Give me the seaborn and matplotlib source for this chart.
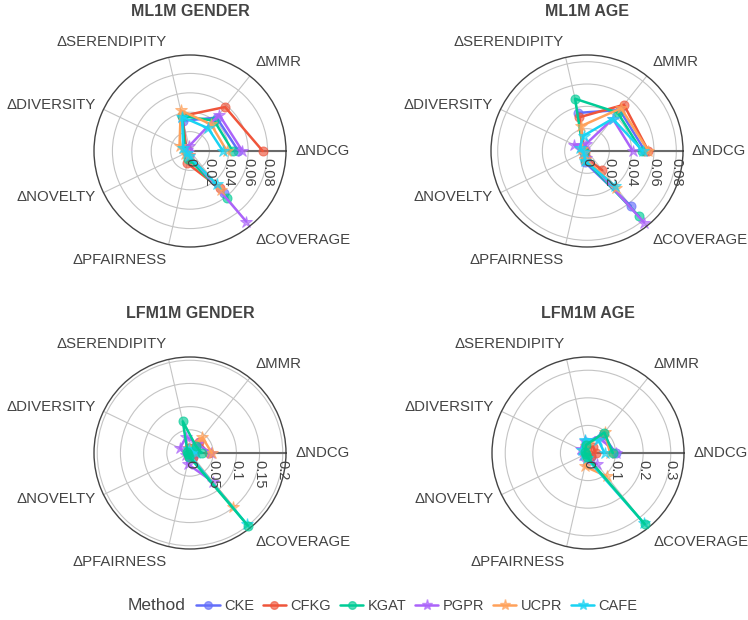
import numpy as np
import pandas as pd
import matplotlib
matplotlib.use("Agg")
import matplotlib.pyplot as plt
import matplotlib.transforms as mtrans
from matplotlib.colors import to_rgba
from matplotlib.lines import Line2D
import seaborn as sns

# ejes del radar y metodos
metrics = ["ΔNDCG", "ΔMMR", "ΔSERENDIPITY", "ΔDIVERSITY", "ΔNOVELTY", "ΔPFAIRNESS", "ΔCOVERAGE"]
methods = ["CKE", "CFKG", "KGAT", "PGPR", "UCPR", "CAFE"]
colors = ["#636EFA", "#EF553B", "#00CC96", "#AB63FA", "#FFA15A", "#19D3F3"]
symbols = ["o", "o", "o", "*", "*", "*"]

# valores por panel (filas = metodos, columnas = metricas)
ml1m_gender = [
    [0.050, 0.044, 0.032, 0.005, 0.003, 0.006, 0.056],
    [0.075, 0.058, 0.037, 0.004, 0.003, 0.013, 0.049],
    [0.044, 0.040, 0.037, 0.006, 0.004, 0.008, 0.062],
    [0.054, 0.048, 0.005, 0.003, 0.002, 0.004, 0.093],
    [0.038, 0.035, 0.043, 0.012, 0.006, 0.004, 0.052],
    [0.034, 0.030, 0.036, 0.008, 0.004, 0.005, 0.044],
]
ml1m_age = [
    [0.052, 0.047, 0.035, 0.004, 0.003, 0.010, 0.063],
    [0.055, 0.053, 0.031, 0.003, 0.002, 0.006, 0.022],
    [0.049, 0.044, 0.048, 0.004, 0.003, 0.008, 0.075],
    [0.041, 0.037, 0.006, 0.013, 0.004, 0.006, 0.082],
    [0.055, 0.049, 0.023, 0.005, 0.004, 0.007, 0.042],
    [0.050, 0.037, 0.014, 0.007, 0.003, 0.009, 0.040],
]
lfm1m_gender = [
    [0.010, 0.008, 0.010, 0.004, 0.003, 0.005, 0.012],
    [0.040, 0.030, 0.012, 0.004, 0.003, 0.006, 0.010],
    [0.025, 0.020, 0.070, 0.006, 0.004, 0.008, 0.200],
    [0.045, 0.025, 0.036, 0.024, 0.010, 0.024, 0.080],
    [0.047, 0.043, 0.010, 0.005, 0.004, 0.005, 0.150],
    [0.012, 0.010, 0.008, 0.004, 0.003, 0.005, 0.197],
]
lfm1m_age = [
    [0.100, 0.085, 0.040, 0.015, 0.010, 0.012, 0.020],
    [0.028, 0.030, 0.020, 0.010, 0.008, 0.010, 0.015],
    [0.090, 0.095, 0.030, 0.012, 0.010, 0.015, 0.330],
    [0.100, 0.070, 0.045, 0.030, 0.020, 0.030, 0.050],
    [0.080, 0.097, 0.025, 0.015, 0.012, 0.050, 0.108],
    [0.060, 0.060, 0.050, 0.025, 0.015, 0.020, 0.326],
]

titles = ["ML1M GENDER", "ML1M AGE", "LFM1M GENDER", "LFM1M AGE"]
panels = [ml1m_gender, ml1m_age, lfm1m_gender, lfm1m_age]
r_max = [0.099, 0.086, 0.207, 0.348]
r_ticks = [[0, 0.02, 0.04, 0.06, 0.08], [0, 0.02, 0.04, 0.06, 0.08],
           [0, 0.05, 0.1, 0.15, 0.2], [0, 0.1, 0.2, 0.3]]

W, H = 748, 620
centers = [(190, 151), (587, 151), (190, 453), (588, 453)]
title_y = [12, 12, 313, 313]
R = 96
TXT = "#444444"

sns.set_theme(style="white")
plt.rcParams["font.family"] = ["Liberation Sans", "DejaVu Sans"]

fig = plt.figure(figsize=(W / 100, H / 100), dpi=100)
angles = np.arange(len(metrics)) * 2 * np.pi / len(metrics)

for k in range(4):
    cx, cy = centers[k]
    ax = fig.add_axes([(cx - R) / W, (H - cy - R) / H, 2 * R / W, 2 * R / H], projection="polar")

    df = pd.DataFrame([
        {"Method": m, "theta": angles[j], "value": panels[k][i][j]}
        for i, m in enumerate(methods) for j in range(len(metrics))
    ])
    sns.lineplot(data=df, x="theta", y="value", hue="Method", style="Method",
                 hue_order=methods, style_order=methods,
                 palette=dict(zip(methods, colors)), markers=dict(zip(methods, symbols)),
                 dashes=False, sort=False, estimator=None, legend=False,
                 linewidth=1.8, ax=ax)
    for i, ln in enumerate(ax.lines):
        c = ln.get_color()
        ln.set_markerfacecolor(to_rgba(c, 0.65))
        ln.set_markeredgecolor(to_rgba(c, 0.65))
        ln.set_markersize(9 if ln.get_marker() == "*" else 6.5)
        ln.set_clip_on(False)
        # en LFM1M la linea de KGAT queda por encima de CAFE
        if k >= 2 and i == 2:
            ln.set_zorder(3)

    ax.set_ylim(0, r_max[k])
    ax.set_xticks(angles)
    ax.set_xticklabels([])
    ax.set_yticks(r_ticks[k][1:])
    ax.set_yticklabels([])
    ax.set_xlabel("")
    ax.set_ylabel("")
    ax.grid(True, color="#c4c4c4", linewidth=0.8)
    ax.tick_params(axis="x", direction="out", length=5, width=1, colors=TXT, pad=0)
    ax.spines["polar"].set_color(TXT)
    ax.spines["polar"].set_linewidth(1.0)
    ax.plot([0, 0], [0, r_max[k]], color="#6a6a6a", linewidth=1.5, zorder=1.5)

    # etiquetas del eje angular
    for a, lab in zip(angles, metrics):
        ca, sa = np.cos(a), np.sin(a)
        ha = "left" if ca > 0.1 else ("right" if ca < -0.1 else "center")
        va = "bottom" if sa > 0.5 else ("top" if sa < -0.5 else "center")
        tr = mtrans.offset_copy(ax.transData, fig=fig, x=9 * ca, y=9 * sa, units="dots")
        ax.text(a, r_max[k], lab, transform=tr, ha=ha, va=va, fontsize=10.8, color=TXT, clip_on=False)

    # etiquetas del eje radial (rotadas)
    tr = mtrans.offset_copy(ax.transData, fig=fig, x=0, y=-7, units="dots")
    for t in r_ticks[k]:
        ax.text(0, t, f"{t:g}", transform=tr, rotation=-90, ha="center", va="top",
                fontsize=10.5, color=TXT, clip_on=False)

    fig.text(cx / W, 1 - title_y[k] / H, titles[k], ha="center", va="center",
             fontsize=11.5, fontweight="bold", color=TXT)

# leyenda inferior
handles = [Line2D([0], [0], color=c, marker=s, markersize=(8 if s == "*" else 5.5),
                  linewidth=1.8, markerfacecolor=to_rgba(c, 0.65), markeredgecolor=to_rgba(c, 0.65))
           for c, s in zip(colors, symbols)]
fig.legend(handles, methods, loc="center", bbox_to_anchor=(417 / W, 14 / H), ncol=6,
           frameon=False, handlelength=1.6, handletextpad=0.3, columnspacing=0.6,
           prop={"size": 10.5}, labelcolor=TXT)
fig.text(128 / W, 14 / H, "Method", ha="left", va="center", fontsize=12.5, color=TXT)

fig.savefig("out.png", dpi=100)
